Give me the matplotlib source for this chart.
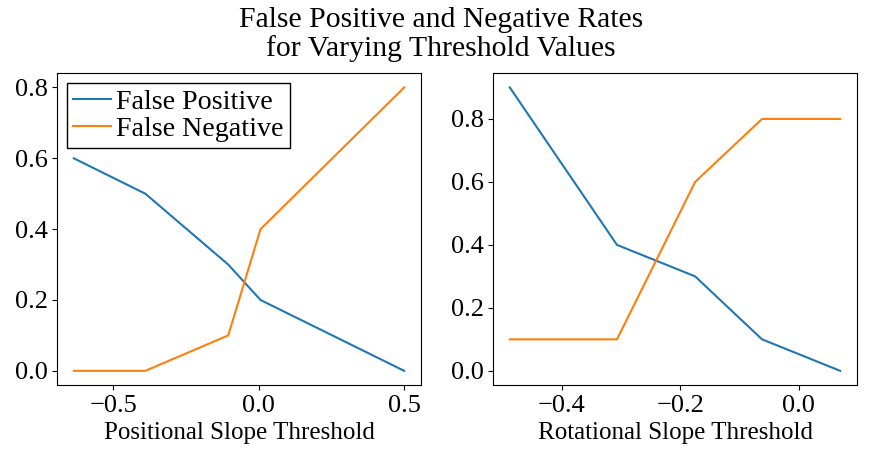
import matplotlib
matplotlib.use("Agg")
import matplotlib.pyplot as plt
from matplotlib.ticker import MultipleLocator

plt.rcParams["font.family"] = ["Liberation Serif", "DejaVu Serif"]

# positional slope threshold sweep
pos_threshold = [-0.636, -0.39, -0.105, 0.006, 0.5]
pos_false_pos = [0.6, 0.5, 0.3, 0.2, 0.0]
pos_false_neg = [0.0, 0.0, 0.1, 0.4, 0.8]

# rotational slope threshold sweep
rot_threshold = [-0.488, -0.307, -0.175, -0.062, 0.070]
rot_false_pos = [0.9, 0.4, 0.3, 0.1, 0.0]
rot_false_neg = [0.1, 0.1, 0.6, 0.8, 0.8]

fig = plt.figure(figsize=(8.82, 4.58), dpi=100)
ax1 = fig.add_axes([57.3 / 882, 1 - 385 / 458, (420.7 - 57.3) / 882, (385 - 73.3) / 458])
ax2 = fig.add_axes([493.3 / 882, 1 - 385 / 458, (856.7 - 493.3) / 882, (385 - 73.3) / 458])

ax1.plot(pos_threshold, pos_false_pos, color="#1f77b4", label="False Positive")
ax1.plot(pos_threshold, pos_false_neg, color="#ff7f0e", label="False Negative")
ax1.set_xlabel("Positional Slope Threshold", fontsize=18)
ax1.xaxis.set_major_locator(MultipleLocator(0.5))
ax1.legend(loc="upper left", fontsize=20.2, fancybox=False, edgecolor="black",
           framealpha=1, handlelength=1.33, handletextpad=0.2,
           borderaxespad=0.35, borderpad=0.22, labelspacing=0.05)

ax2.plot(rot_threshold, rot_false_pos, color="#1f77b4")
ax2.plot(rot_threshold, rot_false_neg, color="#ff7f0e")
ax2.set_xlabel("Rotational Slope Threshold", fontsize=18)

for ax in (ax1, ax2):
    ax.tick_params(labelsize=19)

fig.suptitle("False Positive and Negative Rates\nfor Varying Threshold Values",
             fontsize=21.4, y=0.985, linespacing=1.08)

fig.savefig("out.png", dpi=100)
